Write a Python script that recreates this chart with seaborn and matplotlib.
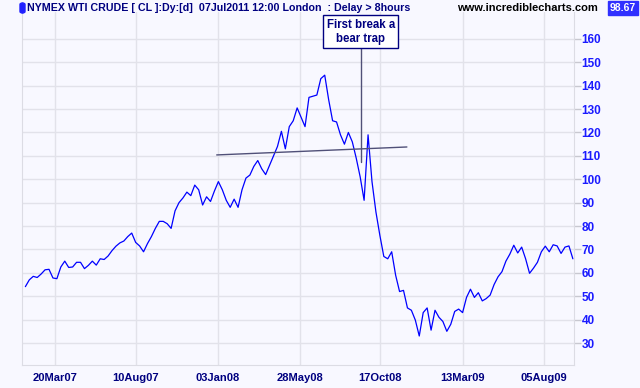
import pandas as pd
import matplotlib
matplotlib.use('Agg')
import matplotlib.pyplot as plt
from matplotlib.patches import FancyBboxPatch
import seaborn as sns

# weekly closes, starting late Jan 2007
start_date = '2007-01-26'
prices = [
    54.1, 57.0, 58.5, 58.0, 59.5, 61.3, 61.5, 57.8, 57.5, 62.5,
    65.0, 62.3, 62.5, 64.5, 64.5, 61.8, 63.2, 65.0, 63.3, 66.0,
    65.7, 67.2, 69.5, 71.4, 72.8, 73.6, 75.5, 77.0, 73.0, 71.5,
    69.0, 72.5, 75.5, 79.0, 82.0, 82.0, 81.0, 79.0, 86.5, 90.0,
    92.0, 94.5, 93.0, 97.5, 95.5, 89.0, 92.5, 90.5, 95.0, 99.0,
    95.5, 91.0, 88.0, 91.5, 88.0, 95.5, 100.5, 101.8, 105.5, 108.0,
    104.5, 102.0, 106.0, 110.0, 114.0, 120.5, 113.0, 122.5, 125.0, 130.5,
    126.5, 122.5, 135.0, 135.5, 136.0, 143.0, 144.5, 134.0, 125.0, 124.5,
    119.0, 115.0, 120.0, 116.0, 109.0, 101.0, 91.0, 119.0, 99.0, 86.0,
    76.0, 67.0, 66.0, 69.0, 59.0, 52.0, 52.5, 45.0, 44.0, 39.8,
    33.0, 43.0, 45.0, 35.5, 44.0, 41.0, 39.2, 35.0, 38.0, 43.5,
    44.5, 43.0, 49.5, 53.0, 49.5, 51.5, 48.0, 49.0, 50.5, 55.0,
    58.3, 60.5, 65.0, 68.0, 71.8, 68.5, 71.0, 66.0, 59.8, 62.0,
    64.5, 69.0, 71.4, 69.0, 72.0, 71.5, 68.3, 71.0, 71.5, 66.0,
]
dates = pd.date_range(start_date, periods=len(prices), freq='7D')
df = pd.DataFrame({'date': dates, 'close': prices})

tick_dates = ['2007-03-20', '2007-08-10', '2008-01-03', '2008-05-28',
              '2008-10-17', '2009-03-13', '2009-08-05']
tick_labels = ['20Mar07', '10Aug07', '03Jan08', '28May08', '17Oct08', '13Mar09', '05Aug09']
y_ticks = list(range(30, 161, 10))

# hand-drawn trend line and note
trend_dates = ['2008-01-01', '2008-12-04']
trend_values = [110.4, 113.8]
note_date = '2008-09-13'
note_low, note_high = 107.4, 156.0
note_text = 'First break a\nbear trap'

bg = '#f8f8ff'
navy = '#000080'

sns.set_style('white', {'axes.facecolor': bg, 'figure.facecolor': bg})
plt.rcParams['font.family'] = ['Liberation Sans', 'DejaVu Sans']

fig = plt.figure(figsize=(6.4, 3.88), dpi=100)
ax = fig.add_axes([22 / 640, 1 - 365 / 388, (574 - 22) / 640, (365 - 12) / 388])

sns.lineplot(data=df, x='date', y='close', color='#0000ff', linewidth=0.9, ax=ax)
ax.plot(pd.to_datetime(trend_dates), trend_values, color='#505078', linewidth=1.0)
nd = pd.to_datetime(note_date)
ax.plot([nd, nd], [note_low, note_high], color='#505078', linewidth=1.0)
ax.text(nd, 163, note_text, ha='center', va='center', fontsize=8.3, fontweight='bold',
        color=navy, linespacing=1.25,
        bbox=dict(boxstyle='square,pad=0.3', facecolor='white', edgecolor=navy, linewidth=1))

ax.set_xlim(pd.Timestamp('2007-01-20'), pd.Timestamp('2009-09-27'))
ax.set_ylim(20.6, 171.5)
ax.set_xticks(pd.to_datetime(tick_dates))
ax.set_xticklabels(tick_labels)
ax.set_yticks(y_ticks)
ax.yaxis.tick_right()
ax.grid(True, color='#e2e2ea', linewidth=1)
ax.set_axisbelow(True)
ax.set_xlabel('')
ax.set_ylabel('')
for side in ['left', 'right', 'bottom', 'top']:
    ax.spines[side].set_color('#dcdce4')
ax.spines['top'].set_visible(False)
ax.tick_params(axis='x', length=0, pad=6, labelsize=8, labelcolor=navy)
ax.tick_params(axis='y', length=5, width=1, color='#c8c8d0', pad=0.5, labelsize=8.5, labelcolor='#1a1aff')
for lbl in ax.get_xticklabels() + ax.get_yticklabels():
    lbl.set_fontweight('bold')

# header
fig.patches.append(FancyBboxPatch((20 / 640, 1 - 13 / 388), 5 / 640, 10 / 388,
                                  boxstyle='round,pad=0,rounding_size=0.004',
                                  transform=fig.transFigure, facecolor='#2020ff', edgecolor='#2020ff'))
fig.text(27 / 640, 1 - 8 / 388, 'NYMEX WTI CRUDE [ CL ]:Dy:[d]  07Jul2011 12:00 London  : Delay > 8hours',
         fontsize=7.7, fontweight='bold', color=navy, va='center')
fig.text(598 / 640, 1 - 8 / 388, 'www.incrediblecharts.com', fontsize=8, fontweight='bold',
         color='black', va='center', ha='right')
fig.text(636 / 640, 1 - 8 / 388, '98.67', fontsize=7.5, fontweight='bold', color='white',
         va='center', ha='right',
         bbox=dict(boxstyle='square,pad=0.2', facecolor='#3030ff', edgecolor='#3030ff'))

fig.savefig('out.png', dpi=100, facecolor=bg)
